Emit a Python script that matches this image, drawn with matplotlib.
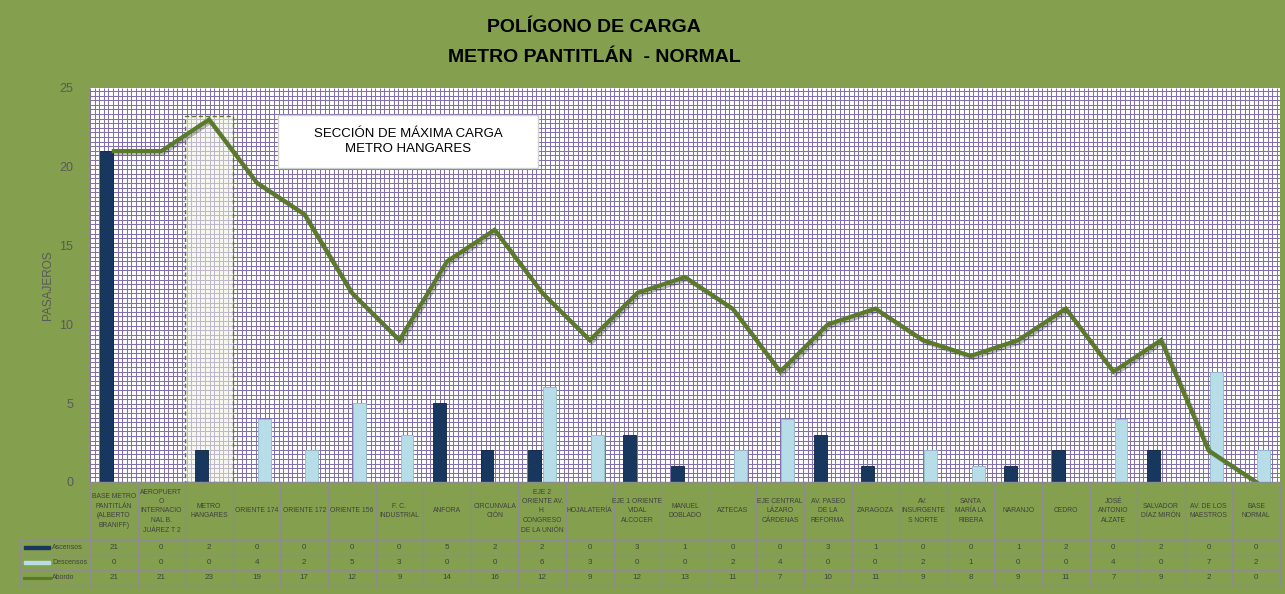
import numpy as np
import matplotlib
matplotlib.use('Agg')
import matplotlib.pyplot as plt
import matplotlib.patheffects as pe
from matplotlib.patches import Rectangle
from matplotlib.collections import LineCollection

stations = [
    "BASE METRO\nPANTITLÁN\n(ALBERTO\nBRANIFF)",
    "AEROPUERT\nO\nINTERNACIO\nNAL B.\nJUÁREZ T 2",
    "METRO\nHANGARES",
    "ORIENTE 174",
    "ORIENTE 172",
    "ORIENTE 156",
    "F. C.\nINDUSTRIAL",
    "ANFORA",
    "CIRCUNVALA\nCIÓN",
    "EJE 2\nORIENTE AV.\nH.\nCONGRESO\nDE LA UNIÓN",
    "HOJALATERÍA",
    "EJE 1 ORIENTE\nVIDAL\nALCOCER",
    "MANUEL\nDOBLADO",
    "AZTECAS",
    "EJE CENTRAL\nLÁZARO\nCÁRDENAS",
    "AV. PASEO\nDE LA\nREFORMA",
    "ZARAGOZA",
    "AV.\nINSURGENTE\nS NORTE",
    "SANTA\nMARÍA LA\nRIBERA",
    "NARANJO",
    "CEDRO",
    "JOSÉ\nANTONIO\nALZATE",
    "SALVADOR\nDÍAZ MIRÓN",
    "AV. DE LOS\nMAESTROS",
    "BASE\nNORMAL",
]
ascensos = [21, 0, 2, 0, 0, 0, 0, 5, 2, 2, 0, 3, 1, 0, 0, 3, 1, 0, 0, 1, 2, 0, 2, 0, 0]
descensos = [0, 0, 0, 4, 2, 5, 3, 0, 0, 6, 3, 0, 0, 2, 4, 0, 0, 2, 1, 0, 0, 4, 0, 7, 2]
abordo = [21, 21, 23, 19, 17, 12, 9, 14, 16, 12, 9, 12, 13, 11, 7, 10, 11, 9, 8, 9, 11, 7, 9, 2, 0]
row_names = ["Ascensos", "Descensos", "Abordo"]
max_idx = 2

BG = '#84A04F'
PURPLE = '#8270AA'
NAVY = '#17375E'
LIGHT = '#B7DEE8'
LINE = '#5A7A2A'
TXT = '#404040'
GRIDC = '#8C8C8C'

plt.rcParams['font.family'] = ['Liberation Sans', 'DejaVu Sans']

W, H = 1285, 594
fig = plt.figure(figsize=(W / 100, H / 100), dpi=100, facecolor=BG)

x0, x1, ytop, ybot = 90, 1280, 88, 482
ax = fig.add_axes([x0 / W, 1 - ybot / H, (x1 - x0) / W, (ybot - ytop) / H])
ax.set_facecolor('white')
n = len(stations)
x = np.arange(n)
ax.set_xlim(-0.5, n - 0.5)
ax.set_ylim(0, 25)

# purple lattice background
step = 4.6
vx = np.arange(0, x1 - x0, step) / (x1 - x0)
hy = np.arange(0, ybot - ytop, step) / (ybot - ytop)
segs = [[(v, 0), (v, 1)] for v in vx] + [[(0, h), (1, h)] for h in hy]
ax.add_collection(LineCollection(segs, colors=PURPLE, linewidths=0.75,
                                 transform=ax.transAxes, zorder=0))

# highlighted section
ax.add_patch(Rectangle((max_idx - 0.5, 0), 1, 23.2, facecolor='#F2F5E4', alpha=0.55,
                       edgecolor='none', zorder=1))
ax.add_patch(Rectangle((max_idx - 0.5, 0), 1, 23.2, facecolor='none',
                       edgecolor=LINE, lw=1.0, ls=(0, (3, 2)), zorder=4))

bw = 0.27
ax.bar(x - 0.16, ascensos, bw, color=NAVY, edgecolor='#0F2440', lw=0.6, zorder=2)
ax.bar(x + 0.16, descensos, bw, color=LIGHT, edgecolor='#93B9C4', lw=0.6, zorder=2)
ax.plot(x, abordo, color=LINE, lw=3.0, zorder=3, solid_joinstyle='miter',
        path_effects=[pe.SimpleLineShadow(offset=(1.5, -1.5), alpha=0.25), pe.Normal()])

# label box for the maximum-load section
ax.add_patch(Rectangle((3.45, 19.9), 5.46, 3.4, facecolor='white', edgecolor='#D0D0D0',
                       lw=1, zorder=4.5))
ax.text(6.18, 21.6, "SECCIÓN DE MÁXIMA CARGA\nMETRO HANGARES", ha='center', va='center',
        fontsize=9.5, color='black', linespacing=1.35, zorder=5)

for s in ax.spines.values():
    s.set_visible(False)
ax.set_xticks([])
ax.set_yticks([0, 5, 10, 15, 20, 25])
ax.tick_params(axis='y', length=0, pad=12, labelsize=9, labelcolor='#595959')
ax.set_ylabel("PASAJEROS", fontsize=8.5, color='#595959', labelpad=4)

fig.text(594 / W, 1 - 28 / H, "POLÍGONO DE CARGA", ha='center', va='center',
         fontsize=14, fontweight='bold', color='black')
fig.text(594 / W, 1 - 58 / H, "METRO PANTITLÁN  - NORMAL", ha='center', va='center',
         fontsize=14, fontweight='bold', color='black')

# data table below the plot
tb = 586
tab = fig.add_axes([x0 / W, 1 - tb / H, (x1 - x0) / W, (tb - ybot) / H])
tab.set_xlim(-0.5, n - 0.5)
tab.set_ylim(tb - ybot, 0)
tab.axis('off')
rows_y = [58, 73, 88, 103]
lab_left = -0.5 - 70 / ((x1 - x0) / n)
kw = dict(color=GRIDC, lw=1.0, clip_on=False)
tab.plot([-0.5, n - 0.5], [0, 0], **kw)
for yy in rows_y:
    tab.plot([lab_left, n - 0.5], [yy, yy], **kw)
for i in range(n + 1):
    tab.plot([i - 0.5, i - 0.5], [0, rows_y[-1]], **kw)
tab.plot([lab_left, lab_left], [rows_y[0], rows_y[-1]], **kw)

for i, name in enumerate(stations):
    tab.text(i, rows_y[0] / 2, name, ha='center', va='center', fontsize=4.9,
             color=TXT, linespacing=1.5, clip_on=False)
for r, vals in enumerate([ascensos, descensos, abordo]):
    yc = (rows_y[r] + rows_y[r + 1]) / 2
    for i, v in enumerate(vals):
        tab.text(i, yc, str(v), ha='center', va='center', fontsize=5.8, color=TXT)
    # legend key
    kx0, kx1 = lab_left + 0.08, lab_left + 0.62
    if r == 0:
        tab.add_patch(Rectangle((kx0, yc - 1.6), kx1 - kx0, 3.2, color=NAVY, clip_on=False))
    elif r == 1:
        tab.add_patch(Rectangle((kx0, yc - 1.6), kx1 - kx0, 3.2, color=LIGHT, clip_on=False))
    else:
        tab.plot([kx0, kx1], [yc, yc], color=LINE, lw=2.2, clip_on=False)
    tab.text(kx1 + 0.05, yc, row_names[r], ha='left', va='center', fontsize=5.0,
             color=TXT, clip_on=False)

fig.savefig('out.png', dpi=100, facecolor=BG)
